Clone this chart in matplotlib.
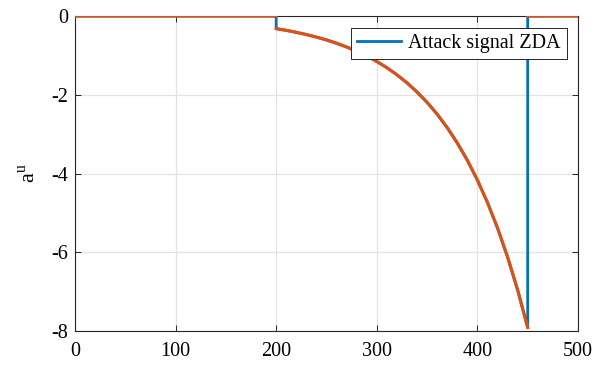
import numpy as np
import matplotlib
matplotlib.use("Agg")
import matplotlib.pyplot as plt

# values (attack active between k=200 and k=450)
k_curve = [200, 210, 220, 230, 240, 250, 260, 270, 280, 290, 300, 310, 320,
           330, 340, 350, 360, 370, 380, 390, 400, 410, 420, 430, 440, 450]
a_curve = [-0.32, -0.364, -0.414, -0.470, -0.535, -0.608, -0.691, -0.786,
           -0.893, -1.015, -1.154, -1.312, -1.492, -1.696, -1.929, -2.193,
           -2.493, -2.834, -3.222, -3.663, -4.165, -4.735, -5.383, -6.120,
           -6.957, -7.91]
k_start, k_end, k_max = 0, 200, 450
k_last = 500

plt.rcParams['font.family'] = ['Liberation Serif', 'DejaVu Serif']
plt.rcParams['mathtext.fontset'] = 'custom'
plt.rcParams['mathtext.rm'] = 'Liberation Serif'
plt.rcParams['axes.unicode_minus'] = False

blue = '#0072BD'
orange = '#D95319'

# blue: full step signal
kb = [k_start, k_end] + k_curve + [k_max, k_last]
ab = [0, 0] + a_curve + [0, 0]
# orange: same pieces, no vertical jumps
ko = [k_start, k_end, np.nan] + k_curve + [np.nan, k_max, k_last]
ao = [0, 0, np.nan] + a_curve + [np.nan, 0, 0]

fig = plt.figure(figsize=(5.99, 3.71), dpi=100)
ax = fig.add_axes([0.1252, 0.1078, 0.8397, 0.849])

ax.plot(kb, ab, color=blue, lw=2.0, label='Attack signal ZDA', zorder=3)
ax.plot(ko, ao, color=orange, lw=2.3, zorder=4)

ax.set_xlim(0, 500)
ax.set_ylim(-8, 0)
ax.set_xticks([0, 100, 200, 300, 400, 500])
ax.set_yticks([-8, -6, -4, -2, 0])
ax.set_yticklabels(['-8', '-6', '-4', '-2', '0'])
ax.grid(True, color='#e3e3e3', lw=0.9)
ax.set_axisbelow(True)
ax.tick_params(direction='in', top=True, right=True, length=4,
               labelsize=14.5, color='#262626', width=0.7, pad=5)
ax.tick_params(axis='x', pad=8)
for s in ax.spines.values():
    s.set_color('#262626')
    s.set_linewidth(0.8)

ax.set_ylabel('a$^{\\mathrm{u}}$', fontsize=16, labelpad=8)

leg = ax.legend(loc='upper right', bbox_to_anchor=(0.9775, 0.962),
                borderaxespad=0, fancybox=False, fontsize=14.5,
                handlelength=2.2, handletextpad=0.35, borderpad=0.3,
                framealpha=1)
leg.get_frame().set_edgecolor('#262626')
leg.get_frame().set_linewidth(0.7)

fig.savefig('out.png', dpi=100)
